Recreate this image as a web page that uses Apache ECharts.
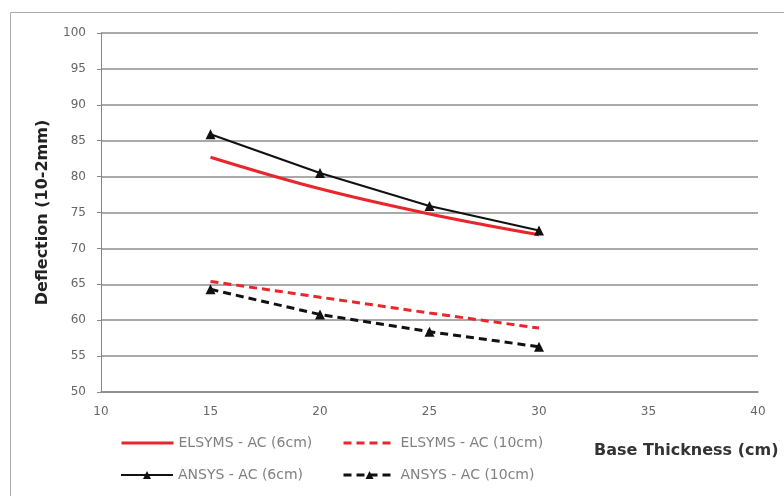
<!DOCTYPE html>
<html><head><meta charset="utf-8">
<script src="https://cdn.jsdelivr.net/npm/echarts@6/dist/echarts.min.js"></script>
<style>html,body{margin:0;padding:0;background:#fff}#c{width:784px;height:496px}</style>
</head><body><div id="c"></div>
<script>
const thickness = [15, 20, 25, 30];
const elsyms6 = [82.7, 78.3, 74.8, 71.9];
const ansys6 = [85.9, 80.5, 75.9, 72.5];
const elsyms10 = [65.4, 63.2, 61.0, 58.9];
const ansys10 = [64.3, 60.8, 58.4, 56.3];
const names = ['ELSYMS - AC (6cm)', 'ELSYMS - AC (10cm)', 'ANSYS - AC (6cm)', 'ANSYS - AC (10cm)'];
const xTitle = 'Base Thickness (cm)';
const yTitle = 'Deflection (10-2mm)';

const pts = arr => thickness.map((t, i) => [t, arr[i]]);
const font = "'DejaVu Sans', Verdana, sans-serif";
const legendText = { color: '#808080', fontFamily: font, fontSize: 14 };
const mkLegend = (item, left, top) => ({
  data: [item], left, top, itemWidth: 52, itemHeight: 10, padding: 0,
  textStyle: legendText
});
const red = '#e8262c', blk = '#111';
const chart = echarts.init(document.getElementById('c'));
chart.setOption({
  animation: false,
  backgroundColor: '#fff',
  grid: { left: 101, right: 26, top: 33, bottom: 104 },
  xAxis: {
    type: 'value', min: 10, max: 40, interval: 5,
    axisLine: { show: true, lineStyle: { color: '#888', width: 1.5 } },
    axisTick: { show: false },
    splitLine: { show: false },
    axisLabel: { color: '#666', fontFamily: font, fontSize: 12, margin: 14 }
  },
  yAxis: {
    type: 'value', min: 50, max: 100, interval: 5,
    name: yTitle, nameLocation: 'middle', nameGap: 50,
    nameTextStyle: { color: '#222', fontFamily: font, fontSize: 16, fontWeight: 'bold' },
    axisLine: { show: true, lineStyle: { color: '#888', width: 1 } },
    axisTick: { show: true, length: 4, lineStyle: { color: '#888' } },
    splitLine: { show: true, lineStyle: { color: '#8c8c8c', width: 1.5 } },
    axisLabel: { color: '#666', fontFamily: font, fontSize: 12, margin: 15 }
  },
  legend: [
    mkLegend({ name: names[0], itemStyle: { opacity: 0 }, lineStyle: { width: 3 } }, 120, 436),
    mkLegend({ name: names[1], itemStyle: { opacity: 0 }, lineStyle: { width: 3 } }, 342, 436),
    mkLegend({ name: names[2], lineStyle: { width: 2 } }, 120, 468),
    mkLegend({ name: names[3], lineStyle: { width: 3 } }, 342, 468)
  ],
  graphic: [
    { type: 'text', left: 594, top: 443,
      style: { text: xTitle, fill: '#333', font: 'bold 16px ' + font } },
    { type: 'rect', shape: { x: 10.5, y: 12.5, width: 780, height: 490 },
      style: { fill: 'none', stroke: '#aaa', lineWidth: 1 }, silent: true }
  ],
  series: [
    { name: names[0], type: 'line', data: pts(elsyms6), smooth: 0.4, showSymbol: false, symbol: 'none',
      lineStyle: { color: red, width: 3 }, itemStyle: { color: red } },
    { name: names[1], type: 'line', data: pts(elsyms10), showSymbol: false, symbol: 'none',
      lineStyle: { color: red, width: 3, type: [8, 5] }, itemStyle: { color: red } },
    { name: names[2], type: 'line', data: pts(ansys6), symbol: 'triangle', symbolSize: 10,
      lineStyle: { color: blk, width: 2 }, itemStyle: { color: blk } },
    { name: names[3], type: 'line', data: pts(ansys10), symbol: 'triangle', symbolSize: 10,
      lineStyle: { color: blk, width: 3, type: [8, 5] }, itemStyle: { color: blk } }
  ]
});
</script></body></html>
